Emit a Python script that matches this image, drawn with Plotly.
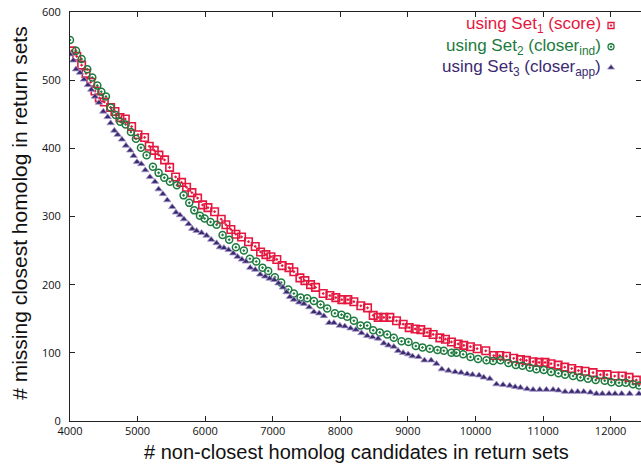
import plotly.graph_objects as go

# Set1 (score) - red squares
set1_x = [4025, 4099, 4172, 4237, 4306, 4370, 4434, 4508, 4601, 4665, 4739, 4818, 4912, 5006,
          5104, 5173, 5247, 5316, 5400, 5474, 5563, 5651, 5725, 5804, 5888, 5962, 6041, 6140,
          6238, 6307, 6381, 6455, 6539, 6642, 6741, 6820, 6899, 6973, 7061, 7140, 7240, 7313,
          7402, 7476, 7560, 7634, 7747, 7846, 7934, 8023, 8112, 8201, 8304, 8403, 8487, 8560,
          8644, 8733, 8832, 8930, 9019, 9108, 9191, 9285, 9374, 9473, 9556, 9645, 9744, 9828,
          9926, 10025, 10153, 10271, 10360, 10459, 10567, 10666, 10754, 10853, 10942, 11030,
          11119, 11223, 11321, 11425, 11523, 11622, 11740, 11849, 11947, 12061, 12174, 12273, 12381]
set1_y = [543, 535, 522, 510, 497, 484, 474, 468, 460, 454, 445, 443, 432, 420,
          416, 403, 397, 390, 383, 372, 358, 350, 343, 335, 327, 317, 313, 307,
          296, 288, 281, 274, 270, 263, 256, 248, 244, 241, 237, 228, 225, 219,
          210, 206, 200, 196, 187, 184, 181, 178, 178, 175, 169, 166, 155, 152,
          152, 152, 147, 142, 137, 135, 134, 130, 127, 122, 120, 116, 113, 111,
          109, 106, 103, 96, 96, 95, 92, 90, 89, 87, 86, 86,
          84, 82, 79, 77, 74, 73, 71, 68, 68, 66, 66, 64, 60]

# Set2 (closer_ind) - green circles
set2_x = [4000, 4089, 4172, 4256, 4330, 4404, 4463, 4532, 4601, 4675, 4744, 4823, 4902, 4976,
          5050, 5134, 5227, 5311, 5395, 5479, 5582, 5681, 5765, 5839, 5923, 5992, 6080, 6169,
          6258, 6356, 6455, 6573, 6662, 6756, 6849, 6933, 7032, 7125, 7230, 7313, 7412, 7510,
          7609, 7708, 7806, 7920, 8018, 8102, 8201, 8299, 8398, 8487, 8585, 8694, 8792, 8906,
          9009, 9118, 9216, 9325, 9438, 9532, 9645, 9719, 9818, 9926, 10039, 10163, 10261,
          10370, 10488, 10597, 10695, 10804, 10902, 11011, 11119, 11228, 11326, 11445, 11553,
          11666, 11780, 11913, 12011, 12125, 12224, 12332, 12421]
set2_y = [559, 543, 531, 516, 504, 492, 483, 476, 460, 449, 439, 435, 424, 414,
          401, 390, 373, 364, 357, 351, 346, 331, 320, 309, 301, 297, 292, 288,
          273, 266, 255, 250, 238, 234, 225, 220, 211, 203, 193, 187, 181, 180,
          176, 171, 165, 158, 156, 153, 147, 140, 140, 133, 130, 127, 122, 117,
          116, 110, 108, 106, 104, 103, 100, 100, 98, 94, 91, 89, 88,
          89, 85, 82, 81, 78, 76, 75, 72, 70, 68, 66, 64,
          62, 60, 59, 57, 56, 56, 54, 52]

# Set3 (closer_app) - purple triangles
set3_x = [4000, 4049, 4089, 4148, 4207, 4266, 4315, 4370, 4429, 4493, 4557, 4601, 4656, 4705,
          4769, 4828, 4892, 4942, 4991, 5055, 5114, 5183, 5257, 5311, 5375, 5439, 5513, 5568,
          5627, 5686, 5755, 5809, 5873, 5947, 6021, 6090, 6169, 6218, 6278, 6347, 6416, 6480,
          6544, 6603, 6667, 6741, 6815, 6889, 6953, 7022, 7086, 7150, 7205, 7254, 7313, 7392,
          7461, 7540, 7609, 7688, 7757, 7836, 7905, 7994, 8067, 8151, 8230, 8314, 8398, 8477,
          8560, 8644, 8713, 8792, 8856, 8930, 9004, 9068, 9157, 9246, 9344, 9423, 9502, 9601,
          9699, 9788, 9877, 9956, 10054, 10123, 10212, 10311, 10409, 10508, 10587, 10666,
          10764, 10853, 10952, 11050, 11149, 11228, 11326, 11425, 11513, 11602, 11701, 11790,
          11878, 11977, 12066, 12164, 12282, 12420]
set3_y = [538, 529, 516, 511, 501, 493, 486, 476, 467, 454, 446, 437, 426, 420,
          413, 404, 397, 389, 380, 377, 368, 358, 351, 340, 333, 324, 314, 306,
          302, 296, 289, 282, 279, 276, 272, 266, 261, 255, 254, 251, 246, 241,
          237, 234, 225, 222, 215, 212, 209, 207, 202, 196, 189, 182, 178, 174,
          172, 167, 160, 158, 154, 144, 144, 140, 139, 136, 134, 129, 125, 123,
          121, 114, 111, 109, 103, 100, 98, 95, 94, 89, 89, 84, 76, 74,
          72, 71, 69, 68, 67, 64, 62, 54, 53, 52, 50, 49,
          47, 46, 46, 46, 46, 45, 43, 43, 43, 43, 42, 40,
          40, 40, 40, 40, 40, 40]

x_ticks = [4000, 5000, 6000, 7000, 8000, 9000, 10000, 11000, 12000]
x_tick_labels = ["4000", "5000", "6000", "7000", "8000", "9000", "10000", "11000", "12000"]
y_ticks = [0, 100, 200, 300, 400, 500, 600]
y_tick_labels = ["0", "100", "200", "300", "400", "500", "600"]

RED = "#e5173f"
GREEN = "#1d7b3e"
PURPLE = "#3b2a70"
SANS = "Liberation Sans, Arial, sans-serif"

fig = go.Figure()
fig.add_trace(go.Scatter(x=set1_x, y=set1_y, mode="markers",
                         marker=dict(symbol="square-open-dot", size=7.5, color=RED, line=dict(width=1.6))))
fig.add_trace(go.Scatter(x=set2_x, y=set2_y, mode="markers",
                         marker=dict(symbol="circle-open-dot", size=7, color=GREEN, line=dict(width=1.5))))
fig.add_trace(go.Scatter(x=set3_x, y=set3_y, mode="markers",
                         marker=dict(symbol="triangle-up", size=6.5, color=PURPLE,
                                     line=dict(width=0.8, color="#a598c8"))))

# legend markers on an overlay axis (symbols to the right of the text)
fig.add_trace(go.Scatter(x=[0.9475], y=[0.967], mode="markers", xaxis="x2", yaxis="y2",
                         marker=dict(symbol="square-open-dot", size=6, color=RED, line=dict(width=1.3))))
fig.add_trace(go.Scatter(x=[0.9475], y=[0.915], mode="markers", xaxis="x2", yaxis="y2",
                         marker=dict(symbol="circle-open-dot", size=6, color=GREEN, line=dict(width=1.3))))
fig.add_trace(go.Scatter(x=[0.9475], y=[0.864], mode="markers", xaxis="x2", yaxis="y2",
                         marker=dict(symbol="triangle-up", size=6, color=PURPLE,
                                     line=dict(width=0.8, color="#a598c8"))))

legend_texts = ["using Set<sub>1</sub> (score)",
                "using Set<sub>2</sub> (closer<sub>ind</sub>)",
                "using Set<sub>3</sub> (closer<sub>app</sub>)"]
legend_colors = [RED, GREEN, PURPLE]
legend_rows = [0.967, 0.915, 0.864]
for t, c, yy in zip(legend_texts, legend_colors, legend_rows):
    fig.add_annotation(text=t, xref="paper", yref="paper", x=0.933, y=yy,
                       xanchor="right", yanchor="middle", showarrow=False,
                       font=dict(family=SANS, size=17, color=c))

# axis titles
fig.add_annotation(text="# non-closest homolog candidates in return sets", xref="paper", yref="paper",
                   x=0.501, y=-0.076, xanchor="center", yanchor="middle", showarrow=False,
                   font=dict(family=SANS, size=20, color="#111"))
fig.add_annotation(text="# missing closest homolog in return sets", xref="paper", yref="paper",
                   x=-0.0875, y=0.509, xanchor="center", yanchor="middle", showarrow=False,
                   textangle=-90, font=dict(family=SANS, size=21, color="#111"))

axis_common = dict(showgrid=False, zeroline=False, showline=True, linecolor="#222",
                   linewidth=1, ticks="inside", ticklen=5, tickcolor="#222",
                   mirror="ticks", ticklabeloverflow="allow",
                   tickfont=dict(family="Open Sans, sans-serif", size=11, color="#111"))

# plot area at x 70..641, y 12..421 of the window (body margin removed below)
fig.update_layout(
    width=641, height=465,
    margin=dict(l=70, r=0, t=12, b=44),
    paper_bgcolor="white", plot_bgcolor="white",
    showlegend=False,
    xaxis=dict(range=[4000, 12450], tickvals=x_ticks, ticktext=x_tick_labels, **axis_common),
    yaxis=dict(range=[0, 600], tickvals=y_ticks, ticktext=y_tick_labels, ticklabelstandoff=6,
               **axis_common),
    xaxis2=dict(range=[0, 1], overlaying="x", visible=False),
    yaxis2=dict(range=[0, 1], overlaying="y", visible=False),
)

fig.write_html("out.html", config={"displayModeBar": False},
               post_script="document.body.style.margin='0';")
